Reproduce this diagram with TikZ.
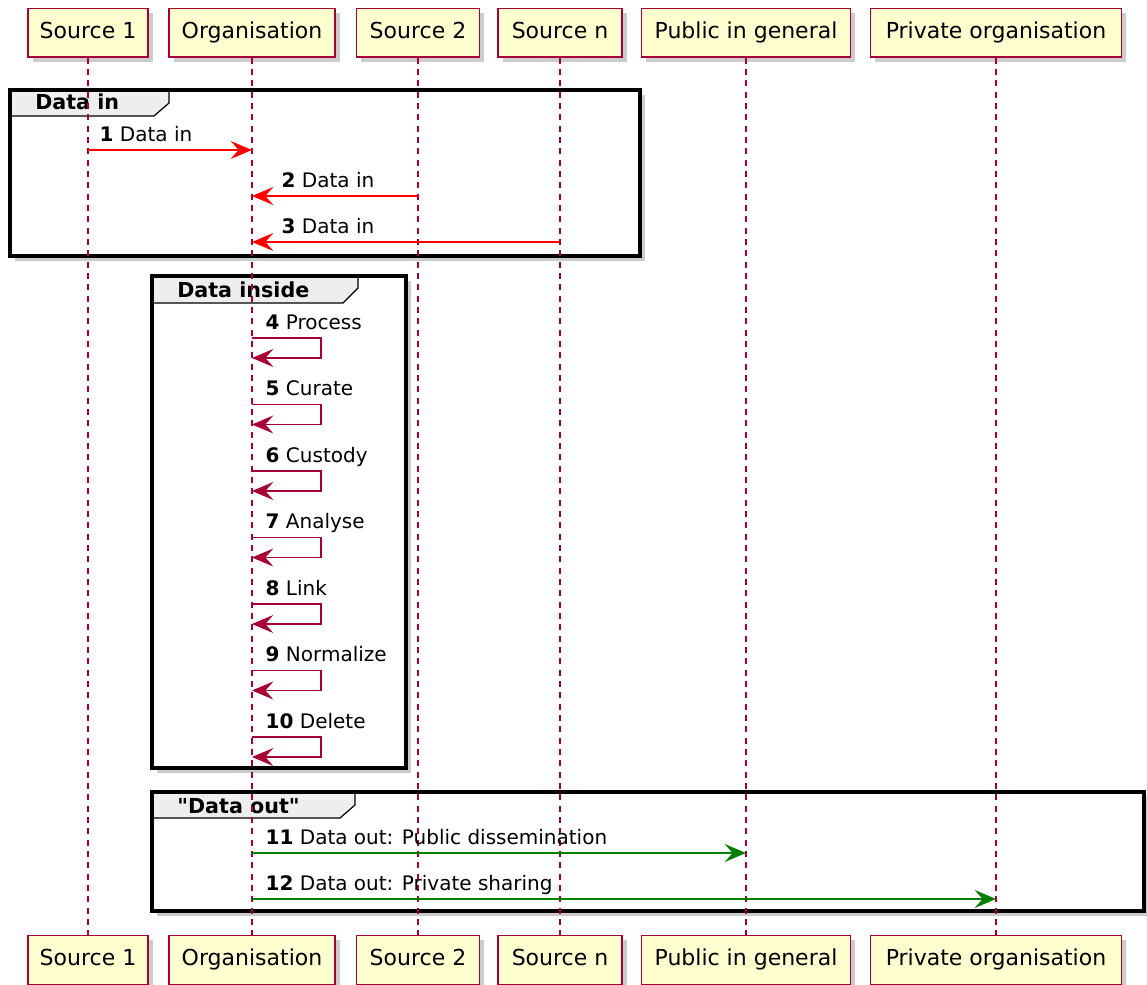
\documentclass[tikz,border=0pt]{standalone}
\usepackage{fontspec}
\setmainfont{DejaVu Sans}[Ligatures=TeXOff]
\usetikzlibrary{arrows.meta,shadows}
\definecolor{umlred}{HTML}{A80036}
\definecolor{umlfill}{HTML}{FEFECE}
\definecolor{tabgray}{HTML}{EEEEEE}
\definecolor{umlgreen}{HTML}{008000}

\begin{document}
\begin{tikzpicture}[
  x=0.75pt, y=-0.75pt,
  font=\fontsize{15}{18}\selectfont,
  shade/.style={drop shadow={shadow xshift=3.5pt, shadow yshift=-3.5pt,
                fill=black!50, opacity=.4}},
  part/.style={draw=umlred, fill=umlfill, line width=1pt, shade,
               text height=12pt, text depth=3.5pt,
               minimum height=36.5pt, font=\fontsize{16.5}{20}\selectfont},
  life/.style={draw=umlred, line width=0.8pt, dash pattern=on 4.5pt off 4pt},
  frame/.style={fill=white, shade},
  border/.style={draw=black, line width=2.4pt},
  tab/.style={draw=black, line width=0.9pt, fill=tabgray},
  tablbl/.style={anchor=base west, inner sep=0pt,
                 font=\fontsize{15.5}{18}\selectfont\bfseries},
  lbl/.style={anchor=base west, inner sep=0pt, text=black},
  msg/.style={line width=1pt, -{Stealth[length=16pt,width=13.5pt,inset=6pt]}}
]
\useasboundingbox (0,0) rectangle (1147,985);

% groups
\path[frame] (10,90) rectangle (640,256);
\draw[tab] (10,90) -- (169,90) -- (169,103) -- (154,116) -- (10,116) -- cycle;
\draw[border] (10,90) rectangle (640,256);
\node[tablbl] (gin) at (35,109) {Data in};

\path[frame] (152,276) rectangle (406,768);
\draw[tab] (152,276) -- (358,276) -- (358,288) -- (343,303) -- (152,303) -- cycle;
\draw[border] (152,276) rectangle (406,768);
\node[tablbl] (ginside) at (177,297) {Data inside};

\path[frame] (152,792) rectangle (1144,911);
\draw[tab] (152,792) -- (355,792) -- (355,805) -- (340,818) -- (152,818) -- cycle;
\draw[border] (152,792) rectangle (1144,911);
\node[tablbl] (gout) at (177,813) {"Data out"};

% participants
\foreach \id/\x/\w/\t in {s1/88/120/Source 1, org/252/166/Organisation,
    s2/418/123/Source 2, sn/560/124/Source n,
    pub/746/209/Public in general, priv/996/251/Private organisation} {
  \node[part, minimum width=\w*0.75pt] (\id) at (\x,32.5) {\t};
  \node[part, minimum width=\w*0.75pt] (\id-b) at (\x,960) {\t};
  \draw[life] (\id) -- (\id-b);
}

% data in
\draw[msg, draw=red] (s1 |- 0,150) -- node[lbl, pos=0, xshift=8.25pt, yshift=6.75pt] (m1)
  {\textbf{1} Data in} (org |- 0,150);
\draw[msg, draw=red] (s2 |- 0,196) -- node[lbl, pos=1, xshift=21.75pt, yshift=6.75pt] (m2)
  {\textbf{2} Data in} (org |- 0,196);
\draw[msg, draw=red] (sn |- 0,242) -- node[lbl, pos=1, xshift=21.75pt, yshift=6.75pt] (m3)
  {\textbf{3} Data in} (org |- 0,242);

% data inside
\foreach \n/\t [count=\i from 0] in {4/Process, 5/Curate, 6/Custody, 7/Analyse,
    8/Link, 9/Normalize, 10/Delete} {
  \pgfmathsetmacro\ya{338+66.5*\i}
  \pgfmathsetmacro\yb{\ya+20}
  \draw[msg, draw=umlred] (org |- 0,\ya)
    node[lbl, xshift=9.75pt, yshift=6.75pt] (self\n) {\textbf{\n} \t}
    -| (321,\yb) -- (org |- 0,\yb);
}

% data out
\draw[msg, draw=umlgreen] (org |- 0,853) -- node[lbl, pos=0, xshift=9.75pt, yshift=6.75pt] (m11)
  {\textbf{11} Data out: Public dissemination} (pub |- 0,853);
\draw[msg, draw=umlgreen] (org |- 0,899) -- node[lbl, pos=0, xshift=9.75pt, yshift=6.75pt] (m12)
  {\textbf{12} Data out: Private sharing} (priv |- 0,899);
\end{tikzpicture}
\end{document}
